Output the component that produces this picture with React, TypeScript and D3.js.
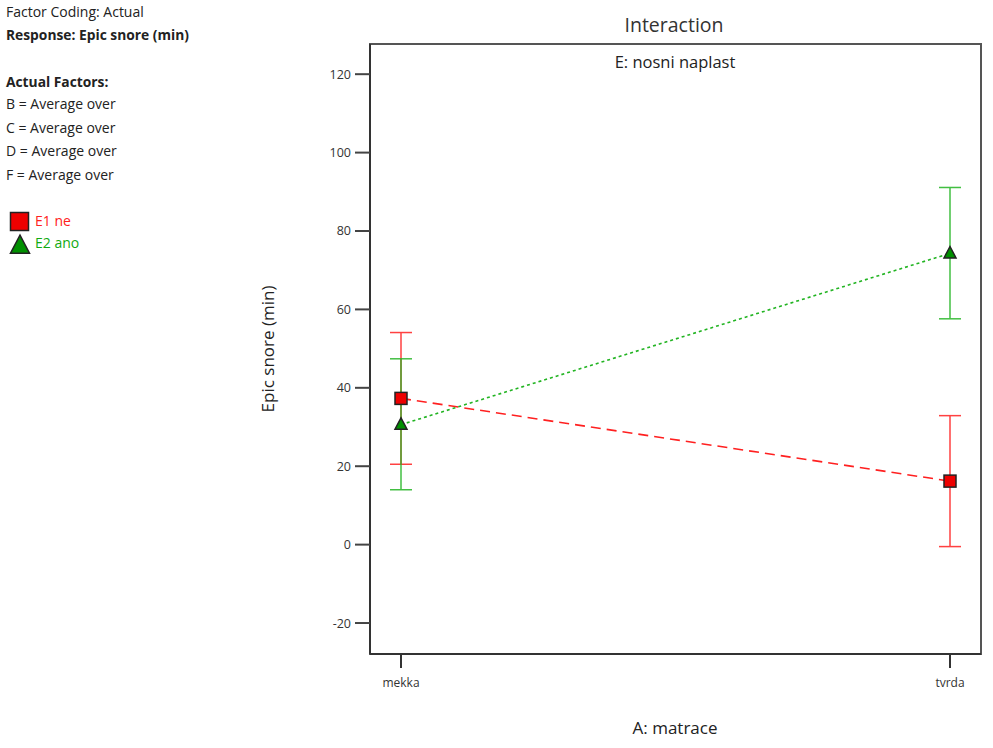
import React from "react";
import * as d3 from "d3";

const categories = ["mekka", "tvrda"];
const seriesNames = ["E1 ne", "E2 ano"];
const e1Mean = [37.3, 16.2];
const e1Low = [20.5, -0.5];
const e1High = [54.1, 32.9];
const e2Mean = [30.6, 74.3];
const e2Low = [14.0, 57.6];
const e2High = [47.4, 91.1];
const yTicks = [-20, 0, 20, 40, 60, 80, 100, 120];
const infoLines = [
  "B = Average over",
  "C = Average over",
  "D = Average over",
  "F = Average over",
];

const FONT = "'Open Sans', 'Noto Sans', sans-serif";

export default function App() {
  const W = 993, H = 748;
  const left = 370, right = 981, top = 44, bottom = 654;
  const y = d3.scaleLinear().domain([-27.9, 127.7]).range([bottom, top]);
  const x = d3.scalePoint<string>().domain(categories).range([401, 950]);

  const series = [
    { name: seriesNames[0], mean: e1Mean, lo: e1Low, hi: e1High, line: "#ff2020", fill: "#ee0000", dash: "10,6", shape: "square" },
    { name: seriesNames[1], mean: e2Mean, lo: e2Low, hi: e2High, line: "#22b422", fill: "#009000", dash: "3,3", shape: "triangle" },
  ];

  const lineGen = d3.line<number>().x((_, i) => x(categories[i])!).y((v) => y(v));

  const marker = (shape: string, cx: number, cy: number, fill: string, size: number) => {
    if (shape === "square") {
      return <rect x={cx - size / 2} y={cy - size / 2} width={size} height={size} fill={fill} stroke="#222" strokeWidth={1.5} />;
    }
    const h = size * 0.95;
    const pts = `${cx},${cy - h * 0.6} ${cx - size / 2},${cy + h * 0.4} ${cx + size / 2},${cy + h * 0.4}`;
    return <polygon points={pts} fill={fill} stroke="#222" strokeWidth={1.5} />;
  };

  return (
    <svg width={W} height={H} style={{ position: "absolute", left: 0, top: 0, fontFamily: FONT }}>
      <rect width={W} height={H} fill="#fff" />
      {/* Info text */}
      <text x={6} y={17} fontSize={14} fill="#222">Factor Coding: Actual</text>
      <text x={6} y={40} fontSize={13.8} fontWeight="bold" fill="#222">Response: Epic snore (min)</text>
      <text x={6} y={87} fontSize={13.8} fontWeight="bold" fill="#222">Actual Factors:</text>
      {infoLines.map((t, i) => (
        <text key={t} x={6} y={109 + i * 23.6} fontSize={14} fill="#222">{t}</text>
      ))}
      {/* Legend */}
      {marker("square", 19.5, 221.5, "#ee0000", 18)}
      <text x={35} y={226} fontSize={14} fill="#ff2020">{seriesNames[0]}</text>
      {marker("triangle", 20, 246, "#009000", 19)}
      <text x={35} y={248} fontSize={14} fill="#11aa11">{seriesNames[1]}</text>

      {/* Titles */}
      <text x={674} y={32} fontSize={19.5} textAnchor="middle" fill="#333">Interaction</text>
      <text x={675} y={68} fontSize={16.5} textAnchor="middle" fill="#222">E: nosni naplast</text>
      <text x={675} y={734} fontSize={17} textAnchor="middle" fill="#222">A: matrace</text>
      <text transform={`translate(274,349) rotate(-90)`} fontSize={17} textAnchor="middle" fill="#222">Epic snore (min)</text>

      {/* Frame */}
      <rect x={left} y={top} width={right - left} height={bottom - top} fill="none" stroke="#555" strokeWidth={2} />
      <line x1={left} x2={left} y1={top} y2={bottom} stroke="#333" strokeWidth={2} />
      <line x1={left} x2={right} y1={bottom} y2={bottom} stroke="#333" strokeWidth={2} />

      {/* Y ticks */}
      {yTicks.map((t) => (
        <g key={t}>
          <line x1={355} x2={left} y1={y(t)} y2={y(t)} stroke="#444" strokeWidth={2} />
          <text x={351} y={y(t) + 4.5} fontSize={12.5} textAnchor="end" fill="#333">{t}</text>
        </g>
      ))}
      {/* X ticks */}
      {categories.map((c) => (
        <g key={c}>
          <line x1={x(c)} x2={x(c)} y1={bottom} y2={668} stroke="#333" strokeWidth={2} />
          <text x={x(c)} y={687} fontSize={12} textAnchor="middle" fill="#333">{c}</text>
        </g>
      ))}

      {/* Error bars */}
      {series.map((s) => (
        <g key={s.name + "eb"} opacity={0.85}>
          {categories.map((c, i) => (
            <g key={c}>
              <line x1={x(c)} x2={x(c)} y1={y(s.lo[i])} y2={y(s.hi[i])} stroke={s.line} strokeWidth={1.5} />
              <line x1={x(c)! - 11} x2={x(c)! + 11} y1={y(s.lo[i])} y2={y(s.lo[i])} stroke={s.line} strokeWidth={1.5} />
              <line x1={x(c)! - 11} x2={x(c)! + 11} y1={y(s.hi[i])} y2={y(s.hi[i])} stroke={s.line} strokeWidth={1.5} />
            </g>
          ))}
        </g>
      ))}
      {/* Lines */}
      {series.map((s) => (
        <path key={s.name + "ln"} d={lineGen(s.mean) || ""} fill="none" stroke={s.line} strokeWidth={1.6} strokeDasharray={s.dash} />
      ))}
      {/* Markers */}
      {series.map((s) => (
        <g key={s.name + "mk"}>
          {categories.map((c, i) => (
            <g key={c}>{marker(s.shape, x(c)!, y(s.mean[i]), s.fill, 12)}</g>
          ))}
        </g>
      ))}
    </svg>
  );
}
